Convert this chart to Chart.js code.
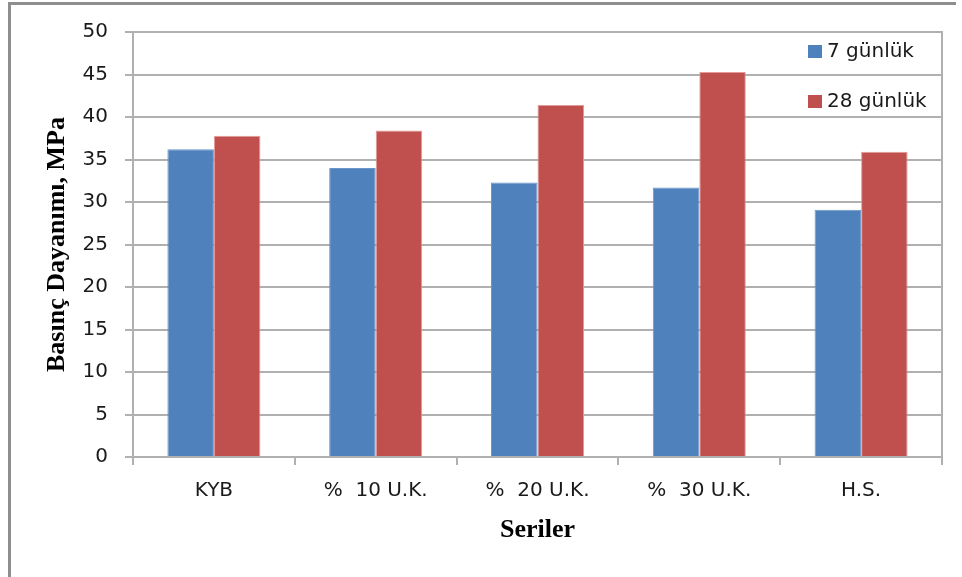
<!DOCTYPE html>
<html lang="tr">
<head>
  <meta charset="UTF-8">
  <title>Basınç Dayanımı</title>
  <script src="https://cdn.jsdelivr.net/npm/chart.js"></script>
  <style>
    html, body { margin: 0; padding: 0; background: #fff; }
    #wrap { position: relative; width: 962px; height: 577px; overflow: hidden; }
    /* çerçeve: sadece sol ve üst kenar görünüyor */
    #frame {
      position: absolute; left: 8px; top: 2px; width: 945px; height: 600px;
      border-left: 3px solid #8e8e8e; border-top: 3px solid #8e8e8e;
    }
    #chart { position: absolute; left: 0; top: 0; }
  </style>
</head>
<body>
<div id="wrap">
  <div id="frame"></div>
  <canvas id="chart" width="962" height="577"></canvas>
</div>
<script>
  const seriler = ['KYB', '%  10 U.K.', '%  20 U.K.', '%  30 U.K.', 'H.S.'];
  const gun7 = [36.2, 34.0, 32.3, 31.7, 29.1];
  const gun28 = [37.8, 38.4, 41.4, 45.3, 35.9];

  const gridRenk = '#b0b0b0';
  const yaziAilesi = '"DejaVu Sans", Lato, sans-serif';
  const etiketFont = { family: yaziAilesi, size: 20 };

  // lejant çizim alanının sağ üst köşesinde, alt alta
  const lejantPlugin = {
    id: 'lejant',
    afterDatasetsDraw(chart) {
      const ctx = chart.ctx;
      const x = 808;
      const satirlar = [51, 101];
      ctx.save();
      ctx.font = '20px ' + yaziAilesi;
      ctx.textBaseline = 'middle';
      chart.data.datasets.forEach((ds, i) => {
        const y = satirlar[i];
        ctx.fillStyle = ds.backgroundColor;
        ctx.fillRect(x, y - 6, 14, 13);
        ctx.fillStyle = '#1a1a1a';
        ctx.fillText(ds.label, x + 19, y + 1);
      });
      ctx.restore();
    }
  };

  new Chart(document.getElementById('chart').getContext('2d'), {
    type: 'bar',
    data: {
      labels: seriler,
      datasets: [
        { label: '7 günlük', data: gun7, backgroundColor: '#4f81bd', borderColor: '#6a95c8', borderWidth: 1 },
        { label: '28 günlük', data: gun28, backgroundColor: '#c0504d', borderColor: '#e39a98', borderWidth: 1 }
      ]
    },
    options: {
      responsive: false,
      animation: false,
      categoryPercentage: 0.575,
      barPercentage: 1,
      layout: { padding: { left: 0, top: 32, right: 20, bottom: 0 } },
      plugins: {
        legend: { display: false },
        tooltip: { enabled: false }
      },
      scales: {
        x: {
          afterFit(s) { s.height = 120; },
          grid: { offset: true, drawOnChartArea: false, color: gridRenk, lineWidth: 2, tickLength: 8 },
          border: { color: gridRenk, width: 2 },
          ticks: { color: '#1a1a1a', font: etiketFont, padding: 14, maxRotation: 0 },
          title: {
            display: true, text: 'Seriler', color: '#000',
            font: { family: '"Liberation Serif", "Times New Roman", serif', size: 26, weight: 'bold' },
            padding: { top: 0, bottom: 31 }
          }
        },
        y: {
          min: 0, max: 50,
          afterFit(s) { s.width = 133; },
          grid: { color: gridRenk, lineWidth: 2, tickLength: 8 },
          border: { color: gridRenk, width: 2 },
          ticks: { stepSize: 5, color: '#1a1a1a', font: etiketFont, padding: 17 },
          title: {
            display: true, text: 'Basınç Dayanımı, MPa', color: '#000',
            font: { family: '"Liberation Serif", "Times New Roman", serif', size: 26, weight: 'bold' },
            padding: { top: 42, bottom: 0 }
          }
        },
        y2: {
          position: 'right', min: 0, max: 50,
          afterFit(s) { s.width = 0; },
          grid: { drawOnChartArea: false, drawTicks: false },
          border: { color: gridRenk, width: 2 },
          ticks: { display: false }
        }
      }
    },
    plugins: [lejantPlugin]
  });
</script>
</body>
</html>
